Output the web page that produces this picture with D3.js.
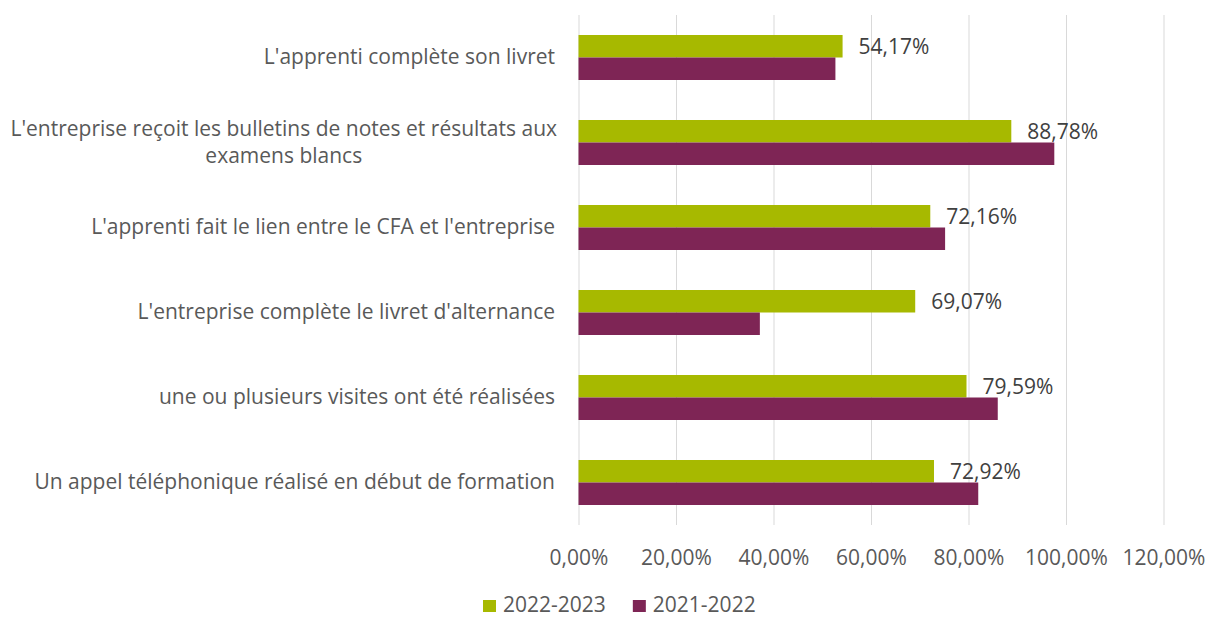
<!DOCTYPE html>
<html>
<head>
<meta charset="utf-8">
<script src="https://cdn.jsdelivr.net/npm/d3@7"></script>
<style>
  html, body { margin: 0; padding: 0; background: #fff; }
  svg { display: block; font-family: "Open Sans", sans-serif; }
</style>
</head>
<body>
<svg id="chart" width="1216" height="618"></svg>
<script>
// categories, top to bottom (multi-line labels split into lines)
const categories = [
  ["L'apprenti complète son livret"],
  ["L'entreprise reçoit les bulletins de notes et résultats aux", "examens blancs"],
  ["L'apprenti fait le lien entre le CFA et l'entreprise"],
  ["L'entreprise complète le livret d'alternance"],
  ["une ou plusieurs visites ont été réalisées "],
  ["Un appel téléphonique réalisé en début de formation"]
];
const values2223 = [54.17, 88.78, 72.16, 69.07, 79.59, 72.92];
const values2122 = [52.7, 97.6, 75.2, 37.2, 86.0, 82.0];
const seriesNames = ["2022-2023", "2021-2022"];
const seriesColors = ["#A7B900", "#7E2555"];
const xTicks = [0, 20, 40, 60, 80, 100, 120];

const svg = d3.select("#chart");
const plotTop = 15, plotBottom = 525, plotLeft = 578.5, plotRight = 1163.5;
const fontPx = "21px";

const x = d3.scaleLinear().domain([0, 120]).range([plotLeft, plotRight]);
const y = d3.scaleBand().domain(d3.range(categories.length)).range([plotTop, plotBottom]);
const ySub = d3.scaleBand().domain(seriesNames).range([20, y.bandwidth() - 20]);

const fmt = v => d3.format(".2f")(v).replace(".", ",") + "%";

// grid + tick labels
const axis = svg.append("g")
    .attr("transform", `translate(0,${plotBottom})`)
    .call(d3.axisBottom(x).tickValues(xTicks).tickSize(-(plotBottom - plotTop)).tickPadding(25).tickFormat(fmt));
axis.select(".domain").remove();
axis.selectAll(".tick line").attr("stroke", "#d9d9d9").attr("stroke-width", 1);
axis.selectAll(".tick text").attr("fill", "#595959").style("font-size", fontPx)
    .style("font-family", "'Open Sans', sans-serif");

// bars
const series = [values2223, values2122];
series.forEach((vals, s) => {
  svg.append("g").selectAll("rect")
    .data(vals)
    .join("rect")
    .attr("x", x(0))
    .attr("y", (d, i) => y(i) + ySub(seriesNames[s]))
    .attr("width", d => x(d) - x(0))
    .attr("height", ySub.bandwidth())
    .attr("fill", seriesColors[s]);
});

// data labels (2022-2023 only)
svg.append("g").selectAll("text")
  .data(values2223)
  .join("text")
  .attr("x", d => x(d) + 16)
  .attr("y", (d, i) => y(i) + ySub(seriesNames[0]) + ySub.bandwidth() / 2)
  .attr("dy", "0.35em")
  .attr("fill", "#404040")
  .style("font-size", fontPx)
  .text(fmt);

// category labels
const labelRight = 555, lineH = 27;
categories.forEach((lines, i) => {
  const cy = y(i) + y.bandwidth() / 2;
  const t = svg.append("text")
    .attr("fill", "#595959")
    .style("font-size", fontPx);
  if (lines.length === 1) {
    t.attr("x", labelRight).attr("y", cy).attr("dy", "0.32em")
      .attr("text-anchor", "end").text(lines[0]);
  } else {
    // measure widest line, centre the block against the right edge
    const probe = svg.append("text").style("font-size", fontPx).text(lines[0]);
    const w = d3.max(lines, l => { probe.text(l); return probe.node().getComputedTextLength(); });
    probe.remove();
    const cx = labelRight + 2 - w / 2;
    t.attr("text-anchor", "middle");
    lines.forEach((l, k) => {
      t.append("tspan").attr("x", cx)
        .attr("y", cy + (k - (lines.length - 1) / 2) * lineH)
        .attr("dy", "0.32em").text(l);
    });
  }
});

// legend
const legend = svg.append("g").attr("transform", "translate(483,605)");
let lx = 0;
seriesNames.forEach((name, s) => {
  const g = legend.append("g").attr("transform", `translate(${lx},0)`);
  g.append("rect").attr("x", 0).attr("y", -5).attr("width", 13).attr("height", 12).attr("fill", seriesColors[s]);
  const txt = g.append("text").attr("x", 20).attr("y", 0).attr("dy", "0.35em")
    .attr("fill", "#595959").style("font-size", fontPx).text(name);
  lx += 20 + txt.node().getComputedTextLength() + 27;
});
</script>
</body>
</html>
